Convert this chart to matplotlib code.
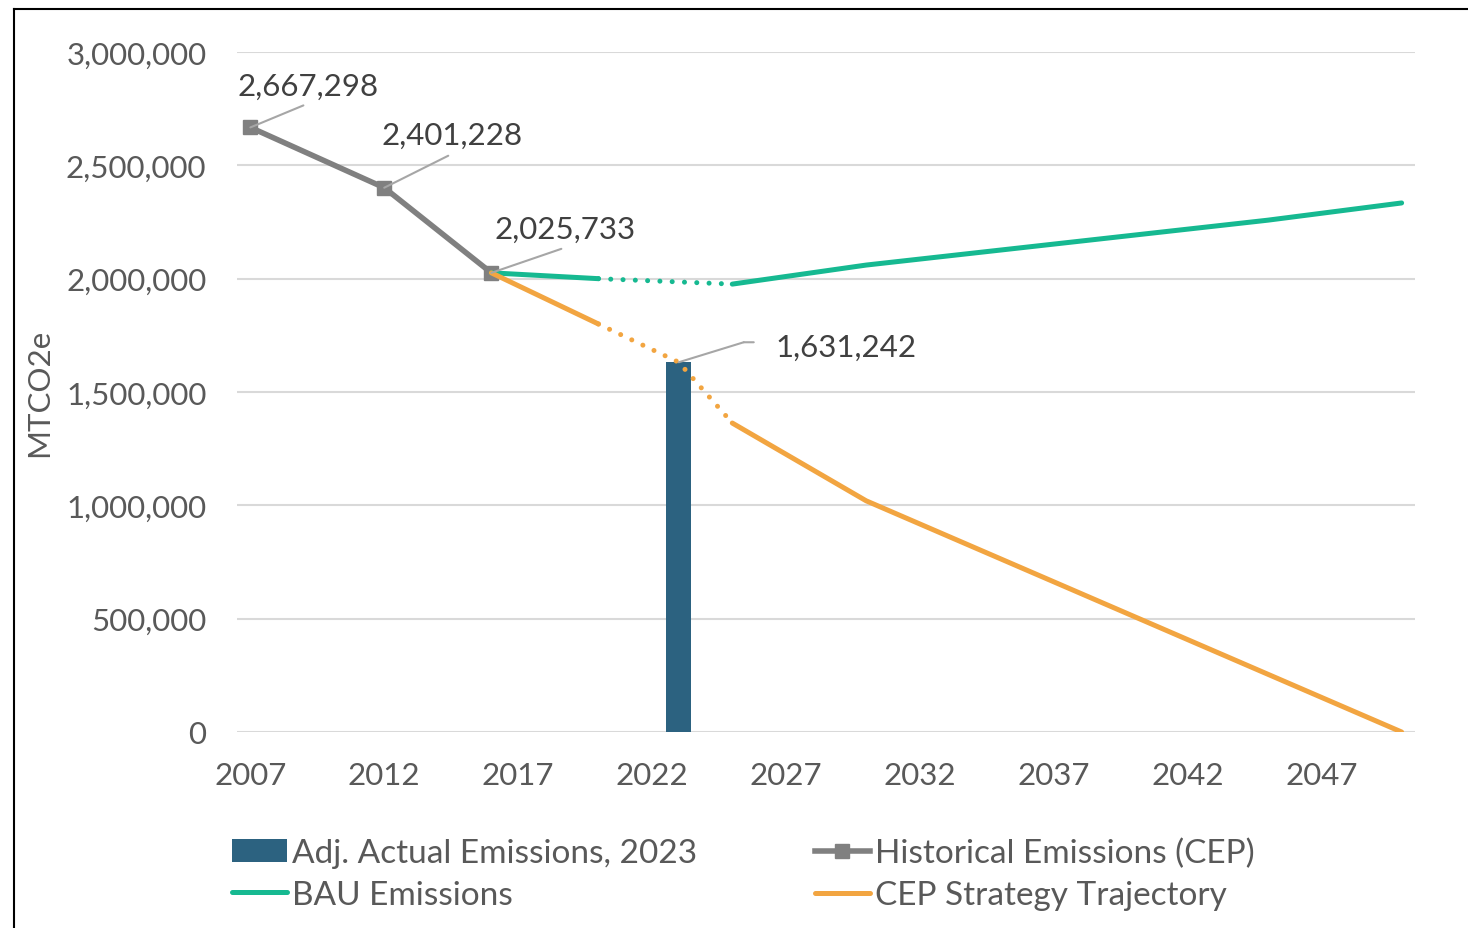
import matplotlib.pyplot as plt
import matplotlib.transforms as mtransforms
from matplotlib.lines import Line2D
from matplotlib.patches import Patch

plt.rcParams['font.family'] = ['Lato', 'DejaVu Sans']

# datos
hist_years = [2007, 2012, 2016]
hist_vals = [2667298, 2401228, 2025733]

bau_years = [2016, 2020, 2025, 2030, 2045, 2050]
bau_vals = [2025733, 2000000, 1976000, 2060000, 2258000, 2334000]

cep_years = [2016, 2020, 2023, 2025, 2030, 2050]
cep_vals = [2025733, 1800000, 1631242, 1363000, 1020000, 0]

bar_year = 2023
bar_val = 1631242

gap_start, gap_end = 2020, 2025   # tramo punteado
x_ticks = list(range(2007, 2050, 5))
y_ticks = list(range(0, 3000001, 500000))

GREY = '#808080'
GREEN = '#16B991'
ORANGE = '#F2A541'
BLUE = '#2C6280'
TXT = '#595959'
LBL = '#404040'
FS = 22.5

fig = plt.figure(figsize=(14.68, 9.29), dpi=100)
ax = fig.add_axes([237/1468, 1 - 733/929, (1415-237)/1468, (733-53)/929])

ax.bar(bar_year, bar_val, width=0.95, color=BLUE, zorder=2)

lw = 3.6
dots = (0, (0.01, 2.45))


def split_plot(years, vals, color):
    solid1 = [(y, v) for y, v in zip(years, vals) if y <= gap_start]
    dotted = [(y, v) for y, v in zip(years, vals) if gap_start <= y <= gap_end]
    solid2 = [(y, v) for y, v in zip(years, vals) if y >= gap_end]
    for seg, ls in ((solid1, '-'), (dotted, dots), (solid2, '-')):
        xs, ys = zip(*seg)
        ax.plot(xs, ys, color=color, lw=lw, linestyle=ls,
                solid_capstyle='round', dash_capstyle='round', zorder=4)


ax.plot(hist_years, hist_vals, color=GREY, lw=4, marker='s', ms=10,
        solid_capstyle='round', zorder=3)
split_plot(bau_years, bau_vals, GREEN)
split_plot(cep_years, cep_vals, ORANGE)

ax.set_xlim(2006.5, 2050.5)
ax.set_ylim(0, 3000000)
ax.set_xticks(x_ticks)
ax.set_yticks(y_ticks)
ax.set_yticklabels([f'{v:,}' for v in y_ticks])
ax.tick_params(axis='both', length=0, labelsize=FS, labelcolor=TXT)
ax.tick_params(axis='x', pad=21)
ax.tick_params(axis='y', pad=22)
ax.grid(axis='y', color='#D9D9D9', lw=1.5, zorder=0)
ax.set_axisbelow(True)
for s in ax.spines.values():
    s.set_visible(False)

ax.set_ylabel('MTCO2e', fontsize=FS, color=TXT)
ax.yaxis.set_label_coords((53-237)/1178, 0.5)

# etiquetas de datos con lineas guia
leader = dict(arrowstyle='-', color='#A6A6A6', lw=1.5, shrinkA=0, shrinkB=0)
labels = [
    (hist_years[0], hist_vals[0], (58, 33), (53, 22)),
    (hist_years[1], hist_vals[1], (68, 44), (64, 32)),
    (hist_years[2], hist_vals[2], (74, 35), (70, 24)),
]
for x, v, txt_off, line_off in labels:
    ax.annotate('', xy=(x, v), xytext=line_off, textcoords='offset pixels',
                arrowprops=leader, zorder=5)
    ax.annotate(f'{v:,}', xy=(x, v), xytext=txt_off, textcoords='offset pixels',
                ha='center', va='baseline', fontsize=FS, color=LBL, zorder=6)

ax.annotate('', xy=(bar_year, bar_val), xytext=(65, 20), textcoords='offset pixels',
            arrowprops=leader, zorder=5)
knee = mtransforms.offset_copy(ax.transData, fig=fig, x=65, y=20, units='dots')
ax.annotate('', xy=(bar_year, bar_val), xycoords=knee, xytext=(10, 0),
            textcoords='offset pixels', arrowprops=leader, zorder=5)
ax.annotate(f'{bar_val:,}', xy=(bar_year, bar_val), xytext=(97, 6),
            textcoords='offset pixels', ha='left', va='baseline',
            fontsize=FS, color=LBL, zorder=6)

# leyenda
h_bar = Patch(facecolor=BLUE)
h_bau = Line2D([], [], color=GREEN, lw=lw, solid_capstyle='round')
h_hist = Line2D([], [], color=GREY, lw=4, marker='s', ms=10)
h_cep = Line2D([], [], color=ORANGE, lw=lw, solid_capstyle='round')
leg_kw = dict(loc='upper left', frameon=False, fontsize=24, handlelength=1.65,
              handletextpad=0.15, labelspacing=0.36, borderpad=0, borderaxespad=0,
              labelcolor=TXT)
fig.legend([h_bar, h_bau], ['Adj. Actual Emissions, 2023', 'BAU Emissions'],
           bbox_to_anchor=(232/1468, 1 - 839/929), **leg_kw)
fig.legend([h_hist, h_cep], ['Historical Emissions (CEP)', 'CEP Strategy Trajectory'],
           bbox_to_anchor=(815/1468, 1 - 839/929), **leg_kw)

# marco del area del grafico
fig.add_artist(Line2D([14/1468, 14/1468], [0, 1 - 9.5/929], transform=fig.transFigure,
                      color='black', lw=1.5))
fig.add_artist(Line2D([14/1468, 1], [1 - 9.5/929, 1 - 9.5/929], transform=fig.transFigure,
                      color='black', lw=1.5))

plt.savefig('out.png', dpi=100)
